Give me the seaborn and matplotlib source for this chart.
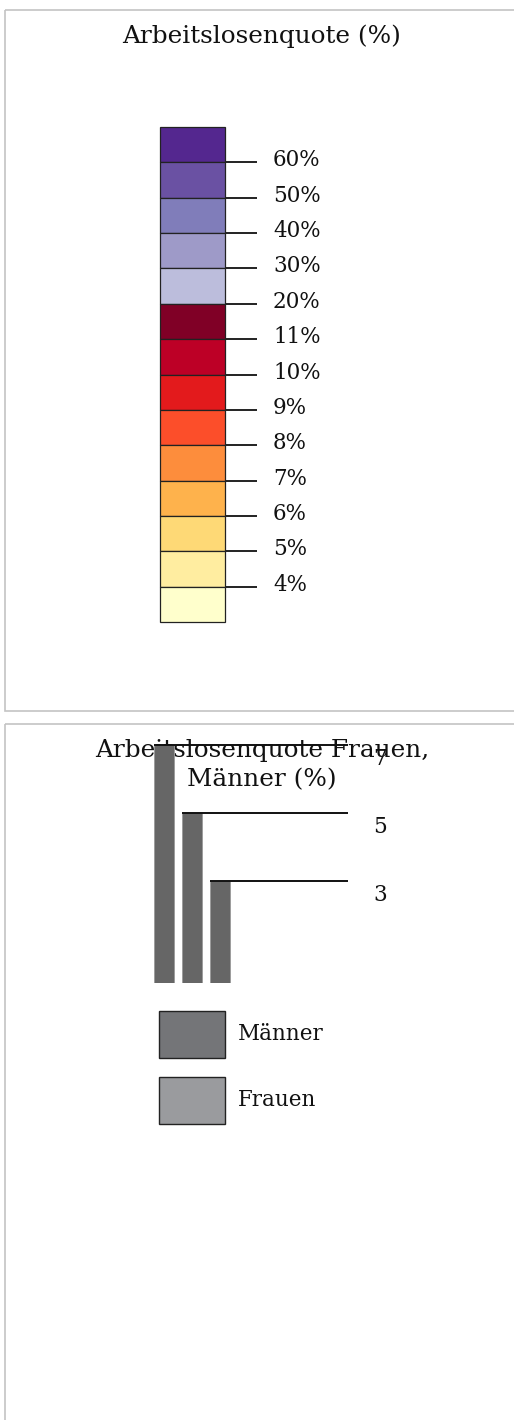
import numpy as np
import pandas as pd
import matplotlib
matplotlib.use("Agg")
import matplotlib.pyplot as plt
import seaborn as sns
from matplotlib.patches import Rectangle

# data
class_colors = ["#54278f", "#6a51a3", "#807dba", "#9e9ac8", "#bcbddc",
                "#800026", "#bd0026", "#e31a1c", "#fc4e2a", "#fd8d3c",
                "#feb24c", "#fed976", "#ffeda0", "#ffffcc"]
break_labels = ["60%", "50%", "40%", "30%", "20%", "11%", "10%",
                "9%", "8%", "7%", "6%", "5%", "4%"]
size_values = [7, 5, 3]
size_labels = ["7", "5", "3"]
legend_names = ["Männer", "Frauen"]
legend_colors = ["#747578", "#9a9b9e"]

W, H = 514, 1420
PT = 72 / 100  # points per pixel

sns.set_theme(style="white")
plt.rcParams["font.family"] = ["DejaVu Serif"]

fig = plt.figure(figsize=(W / 100, H / 100), dpi=100)


def px_axes(x0, y0, x1, y1, **kw):
    return fig.add_axes([x0 / W, 1 - y1 / H, (x1 - x0) / W, (y1 - y0) / H], **kw)


# background: panel frames, titles, legend swatches
bg = px_axes(0, 0, W, H, zorder=-1)
bg.set_xlim(0, W)
bg.set_ylim(H, 0)
bg.axis("off")
bg.add_patch(Rectangle((5, 10), 520, 701, fill=False, ec="#c4c4c4", lw=1.2))
bg.add_patch(Rectangle((5, 724), 520, 720, fill=False, ec="#c4c4c4", lw=1.2))
bg.text(262, 36, "Arbeitslosenquote (%)", ha="center", va="center",
        fontsize=17.8, color="#111")
bg.text(262, 751, "Arbeitslosenquote Frauen,", ha="center", va="center",
        fontsize=17.8, color="#111")
bg.text(262, 780, "Männer (%)", ha="center", va="center",
        fontsize=17.8, color="#111")

for i, (name, c) in enumerate(zip(legend_names, legend_colors)):
    top = 1011 + i * 66
    bg.add_patch(Rectangle((159, top), 66, 47, fc=c, ec="#222", lw=1.0))
    bg.text(238, top + 23, name, ha="left", va="center", fontsize=15.5,
            color="#111")

# colour legend
ax1 = px_axes(160, 127, 225, 622)
ax1.patch.set_alpha(0)
n = len(class_colors)
bars = ax1.bar(np.zeros(n), np.ones(n), bottom=np.arange(n), width=1,
               color=class_colors, edgecolor="#222", linewidth=0.9, align="edge")
for b in bars:
    b.set_clip_on(False)
ax1.set_xlim(0, 1)
ax1.set_ylim(n, 0)
for s in ax1.spines.values():
    s.set_visible(False)
ax1.set_xticks([])
ax1.yaxis.tick_right()
ax1.set_yticks(np.arange(1, n))
ax1.set_yticklabels([])
ax1.tick_params(axis="y", length=32 * PT, width=1.3, color="#111", direction="out")
for i, lab in enumerate(break_labels):
    ax1.annotate(lab, xy=(1, i + 1), xycoords=("axes fraction", "data"),
                 xytext=(48 * PT, -4 * PT), textcoords="offset points",
                 va="baseline", ha="left", fontsize=15.5, color="#111")

# size legend bars
ax2 = px_axes(150, 745, 348, 983)
ax2.patch.set_alpha(0)
df = pd.DataFrame({"pos": [0, 1, 2], "value": size_values})
bar_w = 20 / 28
sns.barplot(data=df, x="pos", y="value", color="#666666", saturation=1,
            width=bar_w, ax=ax2, edgecolor="#9a9a9a", linewidth=0.6)
ax2.set_xlim(-0.5, (348 - 164) / 28)
ax2.set_ylim(0, 7)
ax2.axis("off")
for i, v in enumerate(size_values):
    ax2.plot([i - bar_w / 2, (348 - 164) / 28], [v, v], color="#111", lw=1.4,
             clip_on=False, solid_capstyle="butt")
    ax2.annotate(size_labels[i], xy=(1, v), xycoords=("axes fraction", "data"),
                 xytext=(25 * PT, -3 * PT), textcoords="offset points",
                 va="top", ha="left", fontsize=15.5, color="#111")

fig.savefig("out.png", dpi=100)
